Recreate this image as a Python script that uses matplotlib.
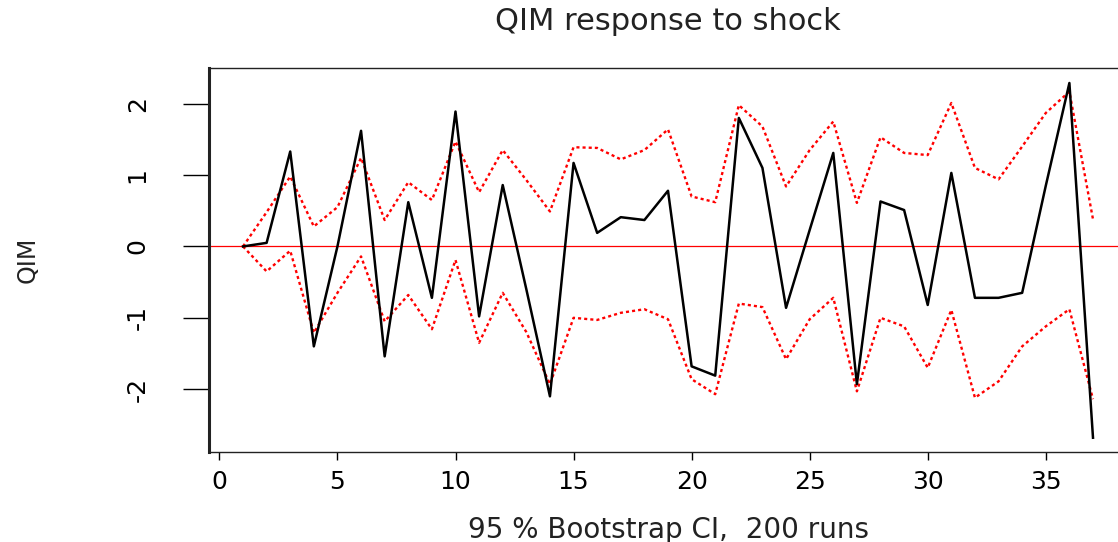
import numpy as np
import matplotlib
matplotlib.use("Agg")
import matplotlib.pyplot as plt

# impulse response of QIM, horizons 1..37
horizon = np.arange(1, 38)
irf = [0, 0.05, 1.33, -1.40, 0.0, 1.62, -1.54, 0.62, -0.72, 1.89,
       -0.98, 0.86, -0.60, -2.10, 1.17, 0.19, 0.41, 0.37, 0.78, -1.68,
       -1.81, 1.80, 1.10, -0.86, 0.23, 1.31, -1.93, 0.63, 0.51, -0.82,
       1.03, -0.72, -0.72, -0.65, 0.85, 2.29, -2.68]
upper = [0, 0.48, 0.98, 0.28, 0.55, 1.24, 0.37, 0.90, 0.65, 1.47,
         0.76, 1.35, 0.93, 0.49, 1.39, 1.38, 1.22, 1.35, 1.64, 0.70,
         0.62, 1.98, 1.68, 0.84, 1.35, 1.75, 0.61, 1.53, 1.31, 1.28,
         2.01, 1.10, 0.94, 1.40, 1.87, 2.17, 0.38]
lower = [0, -0.35, -0.06, -1.21, -0.65, -0.14, -1.05, -0.68, -1.16, -0.19,
         -1.35, -0.65, -1.20, -1.93, -1.00, -1.03, -0.93, -0.88, -1.02, -1.86,
         -2.07, -0.80, -0.85, -1.58, -1.02, -0.72, -2.03, -1.00, -1.12, -1.70,
         -0.89, -2.12, -1.89, -1.40, -1.12, -0.88, -2.14]
xticks = [0, 5, 10, 15, 20, 25, 30, 35]
yticks = [-2, -1, 0, 1, 2]

plt.rcParams['font.family'] = ['DejaVu Sans']

fig = plt.figure(figsize=(11.18, 5.42), dpi=100)
# plot region runs past the right edge, like the cropped original
ax = fig.add_axes([209 / 1118, 90 / 542, 918 / 1118, 384 / 542])

ax.plot(horizon, irf, color='black', lw=1.8, zorder=3)
ax.plot(horizon, upper, color='red', lw=1.7, ls=(0, (1.3, 1.3)), zorder=2)
ax.plot(horizon, lower, color='red', lw=1.7, ls=(0, (1.3, 1.3)), zorder=2)
ax.axhline(0, color='red', lw=0.9, zorder=1)

ax.set_xlim(-0.44, 38.44)
ax.set_ylim(-2.88, 2.50)
ax.set_xticks(xticks)
ax.set_yticks(yticks)
ax.set_yticklabels([str(t) for t in yticks], rotation=90, va='center')

ax.tick_params(axis='x', length=5.8, width=1, pad=7, labelsize=18, colors='black')
ax.tick_params(axis='y', length=18.7, width=1, pad=24, labelsize=18, colors='black')
for name, sp in ax.spines.items():
    sp.set_linewidth(1.0)
    sp.set_color('#222222')
ax.spines['left'].set_linewidth(2.2)

fig.text(668 / 1118, 1 - 21 / 542, 'QIM response to shock', ha='center', va='center',
         fontsize=22, color='#222222')
fig.text(668 / 1118, 1 - 530 / 542, '95 % Bootstrap CI,  200 runs', ha='center', va='center',
         fontsize=20, color='#222222')
fig.text(28 / 1118, 1 - 260 / 542, 'QIM', ha='center', va='center', rotation=90,
         fontsize=17, color='#222222')

fig.savefig('out.png', dpi=100)
